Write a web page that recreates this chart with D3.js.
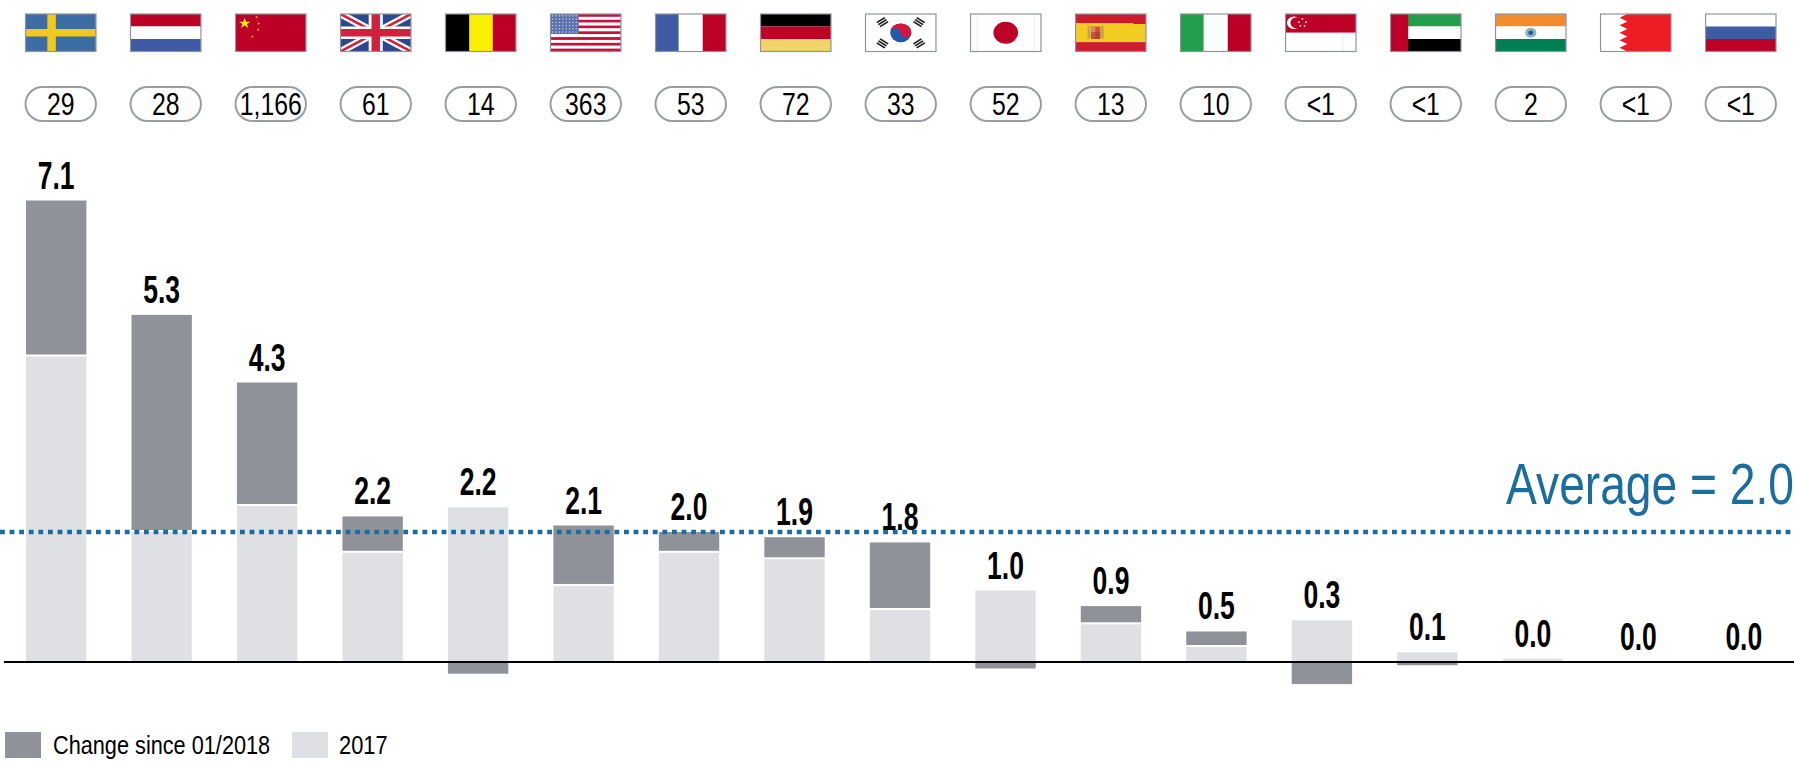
<!DOCTYPE html>
<html>
<head>
<meta charset="utf-8">
<script src="https://cdn.jsdelivr.net/npm/d3@7/dist/d3.min.js"></script>
<style>
html,body{margin:0;padding:0;background:#fff;overflow:hidden}
text{font-family:"Liberation Sans",Arial,sans-serif}
</style>
</head>
<body>
<svg id="chart" width="1794" height="763"></svg>
<script>
// Countries, left to right
const countries = ["SE","NL","CN","GB","BE","US","FR","DE","KR","JP","ES","IT","SG","AE","IN","BH","RU"];
// Pill labels above the bars
const pillLabels = ["29","28","1,166","61","14","363","53","72","33","52","13","10","<1","<1","2","<1","<1"];
// Bar segments
const value2017 = [4.7,2.0,2.4,1.68,2.38,1.17,1.68,1.58,0.8,1.1,0.58,0.23,0.64,0.15,0.05,0,0];
const changeSince = [2.4,3.34,1.9,0.56,-0.18,0.93,0.32,0.34,1.04,-0.1,0.28,0.24,-0.34,-0.05,0,0,0];
// Printed totals
const totalLabels = ["7.1","5.3","4.3","2.2","2.2","2.1","2.0","1.9","1.8","1.0","0.9","0.5","0.3","0.1","0.0","0.0","0.0"];
const averageValue = 2.0;
const legendLabels = ["Change since 01/2018","2017"];

const DARK = "#8f9399", LIGHT = "#dfe0e4", BLUE = "#1a6e9f", RING = "#9a9ea3";
const svg = d3.select("#chart");

const x = d3.scaleBand().domain(countries).range([26, 1774]).paddingInner(0.4275).paddingOuter(0).align(0);
const headX = d3.scaleBand().domain(countries).range([25.5, 1776]).paddingInner(0.329).paddingOuter(0).align(0);
const y = d3.scaleLinear().domain([0, 8]).range([662, 142]);

// Condensed text: the installed sans is squeezed horizontally
function place(sel, px, py, sx, sy) {
  sel.attr("transform", `translate(${px},${py}) scale(${sx},${sy})`);
}

// Stacked bars: the 2017 part sits on the axis, the change stacks on top or hangs below it
const bars = svg.append("g").selectAll("g").data(countries).join("g");
bars.append("rect")
  .attr("x", d => x(d)).attr("width", x.bandwidth())
  .attr("y", (d,i) => y(value2017[i]))
  .attr("height", (d,i) => y(0) - y(value2017[i]))
  .attr("fill", LIGHT);
bars.append("rect")
  .attr("x", d => x(d)).attr("width", x.bandwidth())
  .attr("y", (d,i) => changeSince[i] >= 0 ? y(value2017[i] + changeSince[i]) : y(0))
  .attr("height", (d,i) => changeSince[i] >= 0
      ? Math.max(0, y(value2017[i]) - y(value2017[i] + changeSince[i]) - 2)
      : y(changeSince[i]) - y(0))
  .attr("fill", DARK);

// Zero line
svg.append("line").attr("x1", 4).attr("x2", 1794).attr("y1", y(0)).attr("y2", y(0))
  .attr("stroke", "#000").attr("stroke-width", 2);

// Average line
svg.append("line").attr("x1", 0).attr("x2", 1794).attr("y1", y(averageValue)).attr("y2", y(averageValue))
  .attr("stroke", BLUE).attr("stroke-width", 4.5).attr("stroke-dasharray", "4.8 4.8");
svg.append("text").attr("text-anchor", "end").attr("font-size", 57).attr("fill", BLUE)
  .call(place, 1794, 504, 0.81, 1)
  .text("Average = " + averageValue.toFixed(1));

// Totals above each stack
svg.append("g").selectAll("text").data(countries).join("text")
  .each(function(d,i) {
    d3.select(this).call(place, x(d) + x.bandwidth() / 2,
      y(Math.max(value2017[i], value2017[i] + changeSince[i])) - 12, 0.68, 1);
  })
  .attr("text-anchor", "middle").attr("font-size", 39).attr("font-weight", 700)
  .text((d,i) => totalLabels[i]);

// Pills
const pills = svg.append("g").selectAll("g").data(countries).join("g")
  .attr("transform", d => `translate(${headX(d)},87)`);
pills.append("rect").attr("width", headX.bandwidth()).attr("height", 34).attr("rx", 17)
  .attr("fill", "#fff").attr("stroke", RING).attr("stroke-width", 2);
pills.append("text").call(place, headX.bandwidth() / 2, 28, 0.8, 1)
  .attr("text-anchor", "middle").attr("font-size", 31)
  .text((d,i) => pillLabels[i]);

// Legend
const legend = svg.append("g");
legend.append("rect").attr("x", 5).attr("y", 732).attr("width", 36).attr("height", 26).attr("fill", DARK);
legend.append("text").call(place, 53, 754, 0.835, 1).attr("font-size", 26).text(legendLabels[0]);
legend.append("rect").attr("x", 292).attr("y", 732).attr("width", 36).attr("height", 26).attr("fill", LIGHT);
legend.append("text").call(place, 339, 754, 0.84, 1).attr("font-size", 26).text(legendLabels[1]);

// Flags are drawn in a 100 x 60 box, then scaled to the header cell
const FW = headX.bandwidth(), FH = 37.5, FY = 14;
const RED = "#bd0026", ROYAL = "#3f5ba6";
const defs = svg.append("defs");
defs.append("clipPath").attr("id", "flagClip").append("rect").attr("width", 100).attr("height", 60);

function band(g, x0, y0, w, h, fill) {
  g.append("rect").attr("x", x0).attr("y", y0).attr("width", w).attr("height", h).attr("fill", fill);
}
function bands(g, list, vertical) {
  list.forEach(([a, b, fill]) => vertical ? band(g, a, 0, b - a, 60, fill) : band(g, 0, a, 100, b - a, fill));
}
function star(g, cx, cy, area, fill) {
  g.append("path").attr("d", d3.symbol(d3.symbolStar, area)())
    .attr("transform", `translate(${cx},${cy})`).attr("fill", fill);
}
function stroke(g, x1, y1, x2, y2, w, col) {
  g.append("line").attr("x1", x1).attr("y1", y1).attr("x2", x2).attr("y2", y2)
    .attr("stroke", col).attr("stroke-width", w);
}
const painters = {
  SE: g => { band(g,0,0,100,60,"#3c6ea5"); band(g,31,0,12,60,"#f0c81e"); band(g,0,24,100,12,"#f0c81e"); },
  NL: g => bands(g, [[0,20,RED],[20,40,"#fff"],[40,60,ROYAL]]),
  CN: g => {
    band(g,0,0,100,60,RED); star(g,13,15,90,"#f8e71c");
    [[30,5],[33,15],[32,25],[24,36]].forEach(([a,b]) => star(g,a,b,7,"#f4c51c"));
  },
  GB: g => {
    band(g,0,0,100,60,"#2a4a8f");
    stroke(g,0,0,100,60,11,"#fff"); stroke(g,100,0,0,60,11,"#fff");
    stroke(g,0,0,100,60,4,"#d2213f"); stroke(g,100,0,0,60,4,"#d2213f");
    band(g,40,0,20,60,"#fff"); band(g,0,20,100,20,"#fff");
    band(g,44,0,12,60,"#d2213f"); band(g,0,24,100,12,"#d2213f");
  },
  BE: g => bands(g, [[0,34,"#000"],[34,67,"#f8f000"],[67,100,RED]], true),
  US: g => {
    d3.range(13).forEach(i => band(g,0,i*60/13,100,60/13, i % 2 ? "#fff" : "#c8103c"));
    band(g,0,0,40,32,"#5b70ad");
    d3.range(6).forEach(r => d3.range(8).forEach(c => star(g,3+c*4.8,3+r*5.2,3,"#d5dcf0")));
  },
  FR: g => bands(g, [[0,33,ROYAL],[33,67,"#fff"],[67,100,RED]], true),
  DE: g => bands(g, [[0,20,"#000"],[20,40,RED],[40,60,"#f0d468"]]),
  KR: g => {
    band(g,0,0,100,60,"#fff");
    g.append("circle").attr("cx",50).attr("cy",30).attr("r",15).attr("fill","#2458a8");
    g.append("path").attr("d","M35,30 A15,15 0 0 1 65,30 A7.5,7.5 0 0 1 50,30 A7.5,7.5 0 0 0 35,30Z").attr("fill","#d8143a");
    [[24,13,-35],[76,13,35],[24,47,35],[76,47,-35]].forEach(([cx,cy,a]) => {
      const t = g.append("g").attr("transform",`translate(${cx},${cy}) rotate(${a+90})`);
      [-4,0,4].forEach(o => band(t,o-1.3,-7,2.6,14,"#222"));
    });
  },
  JP: g => {
    band(g,0,0,100,60,"#fff");
    band(g,9,0,.8,60,"#dcdde0"); band(g,90,0,.8,60,"#dcdde0");
    g.append("circle").attr("cx",50).attr("cy",30).attr("r",17.5).attr("fill",RED);
  },
  ES: g => {
    bands(g, [[0,15,"#cf1b2b"],[15,45,"#f2cd1f"],[45,60,"#cf1b2b"]]);
    band(g,82,0,18,16,"#cf1b2b");
    band(g,17,19,4,20,"#c9a34a"); band(g,36,19,4,20,"#c9a34a");
    band(g,22,20,13,20,"#c8523a");
    band(g,22,20,6,9,"#d98a5a"); band(g,28,29,7,11,"#b5403a");
  },
  IT: g => bands(g, [[0,33,"#239e4c"],[33,67,"#fff"],[67,100,RED]], true),
  SG: g => {
    band(g,0,0,100,30,RED); band(g,0,30,100,30,"#fff");
    band(g,81,30,.8,30,"#d5d6da");
    g.append("circle").attr("cx",12).attr("cy",14).attr("r",10).attr("fill","#fff");
    g.append("circle").attr("cx",16).attr("cy",14).attr("r",9).attr("fill",RED);
    [[24,8],[29,13],[27,19],[21,19],[19,13]].forEach(([a,b]) => star(g,a,b,5,"#fff"));
  },
  AE: g => {
    bands(g, [[0,20,"#239e4c"],[20,40,"#fff"],[40,60,"#000"]]);
    band(g,0,0,25,60,RED);
  },
  IN: g => {
    bands(g, [[0,20,"#f28c2e"],[20,40,"#fff"],[40,60,"#008052"]]);
    g.append("circle").attr("cx",50).attr("cy",30).attr("r",8).attr("fill","#8fb4c6");
    g.append("circle").attr("cx",50).attr("cy",30).attr("r",3.5).attr("fill","#1c5f8c");
  },
  BH: g => {
    band(g,0,0,100,60,"#ee1c25");
    const teeth = d3.range(5).flatMap(i => [[38,i*12+0],[27,i*12+6]]);
    const pts = [[0,0],...teeth,[38,60],[0,60]];
    g.append("path").attr("d", d3.line()(pts) + "Z").attr("fill","#fff");
  },
  RU: g => bands(g, [[0,20,"#fff"],[20,40,ROYAL],[40,60,RED]])
};
const flags = svg.append("g").selectAll("g").data(countries).join("g")
  .attr("transform", d => `translate(${headX(d)},${FY})`);
flags.each(function(d) {
  const inner = d3.select(this).append("g")
    .attr("transform", `scale(${FW/100},${FH/60})`).attr("clip-path", "url(#flagClip)");
  painters[d](inner);
});
flags.append("rect").attr("width", FW).attr("height", FH).attr("fill", "none")
  .attr("stroke", "#8f949b").attr("stroke-width", 1.2);
</script>
</body>
</html>
